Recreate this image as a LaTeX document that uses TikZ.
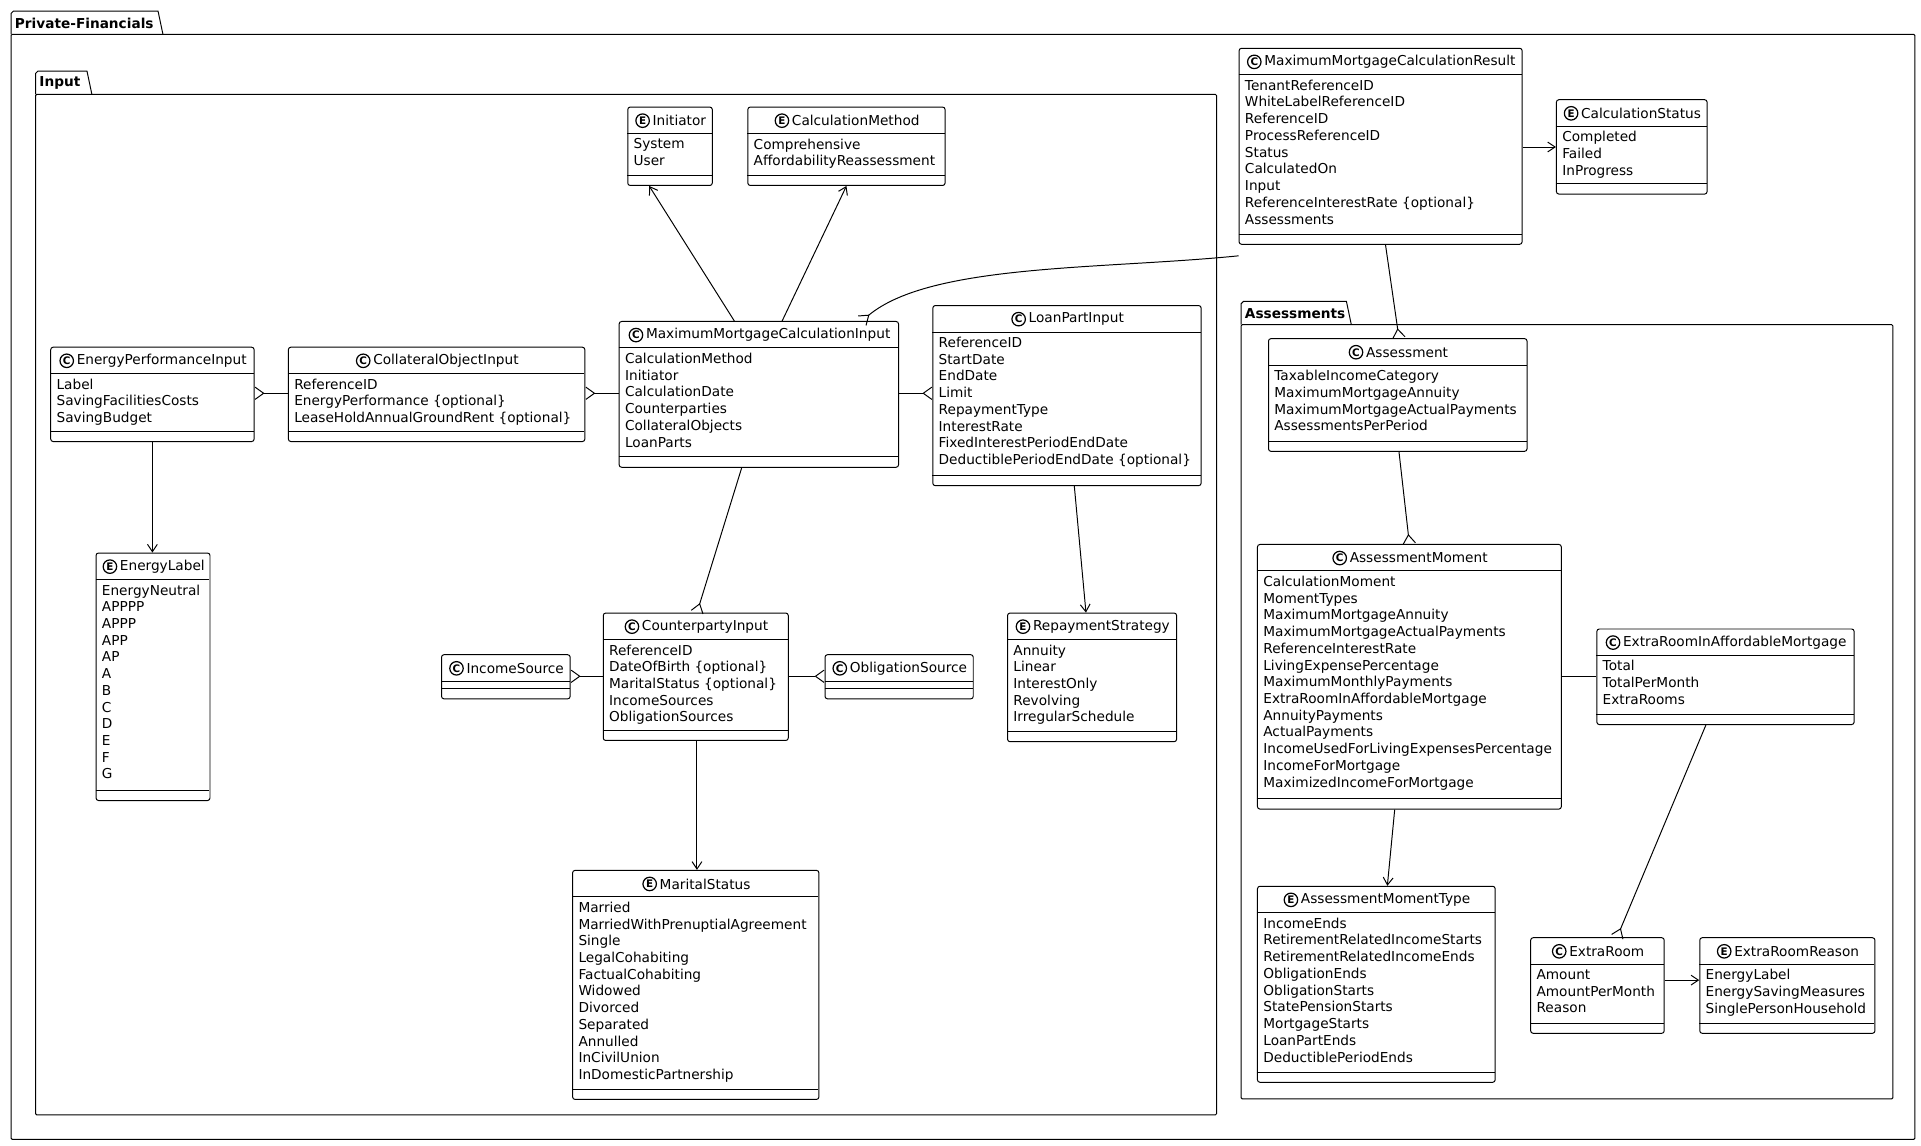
\documentclass[tikz,border=0pt]{standalone}
\usepackage{fontspec}
\setmainfont{DejaVu Sans}
\usetikzlibrary{arrows.meta,calc}
\tikzset{
  x=1bp,y=-1bp,
  every node/.style={font=\fontsize{11.2}{13.7}\selectfont},
  box/.style={draw,rounded corners=2bp,minimum width=#1,inner sep=0,anchor=north west,line width=0.8bp},
  sep/.style={line width=0.8bp},
  icon/.style={circle,draw,line width=1bp,inner sep=0,minimum size=11bp,font=\fontsize{8.5}{9}\bfseries\selectfont},
  con/.style={line width=0.8bp},
  arr/.style={con,-{Straight Barb[length=6bp,width=8bp]}},
  crow/.style={con,-{Straight Barb[reversed,length=7bp,width=10bp]}},
  pkg/.style={line width=0.8bp},
}
% name, x, y, w, h, letter, title, attrs
\newcommand\umlbox[8]{%
  \node[box=#4bp,minimum height=#5bp] (#1) at (#2,#3) {};
  \draw[sep] (#2,{#3+22}) -- ({#2+#4},{#3+22});
  \draw[sep] (#2,{#3+#5-8}) -- ({#2+#4},{#3+#5-8});
  \node[inner sep=0] (#1-t) at ({#2+#4/2+8},{#3+11.5}) {#7};
  \node[icon] at ([xshift=-8bp]#1-t.west) {#6};
  \node[anchor=north west,align=left,inner sep=0] at ({#2+5},{#3+26}) {#8};
}
\newcommand\pkgbox[7]{% x y w(tab) x2 y2 title name
  \draw[pkg] (#1,{#2+19}) -- (#1,{#2+2}) -- ({#1+2},#2) -- ({#1+#3},#2) -- ({#1+#3+4},{#2+19});
  \draw[pkg,rounded corners=1bp] (#1,{#2+19}) rectangle (#4,#5);
  \coordinate (#7) at (#1,#2);
  \node[anchor=west,inner sep=0,font=\fontsize{11.2}{13}\bfseries\selectfont] at ({#1+3},{#2+10}) {#6};
}
\begin{document}
\begin{tikzpicture}
\useasboundingbox[fill=white] (0,0) rectangle (1568,935.4);
\pkgbox{9}{9}{120}{1563}{930}{Private-Financials}{pf}
\pkgbox{29}{58}{42}{993}{910}{Input}{inp}
\pkgbox{1013}{246}{86}{1545}{897}{Assessments}{ass}

\umlbox{init}{512}{87}{69}{64}{E}{Initiator}{System\\User}
\umlbox{cm}{610}{87}{161}{64}{E}{CalculationMethod}{Comprehensive\\AffordabilityReassessment}
\umlbox{mmcr}{1011}{39}{231}{160}{C}{MaximumMortgageCalculationResult}{TenantReferenceID\\WhiteLabelReferenceID\\ReferenceID\\ProcessReferenceID\\Status\\CalculatedOn\\Input\\ReferenceInterestRate \{optional\}\\Assessments}
\umlbox{cs}{1270}{81}{123}{77}{E}{CalculationStatus}{Completed\\Failed\\InProgress}
\umlbox{epi}{41}{283}{166}{77}{C}{EnergyPerformanceInput}{Label\\SavingFacilitiesCosts\\SavingBudget}
\umlbox{coi}{235}{283}{242}{77}{C}{CollateralObjectInput}{ReferenceID\\EnergyPerformance \{optional\}\\LeaseHoldAnnualGroundRent \{optional\}}
\umlbox{mmci}{505}{262}{228}{119}{C}{MaximumMortgageCalculationInput}{CalculationMethod\\Initiator\\CalculationDate\\Counterparties\\CollateralObjects\\LoanParts}
\umlbox{lpi}{761}{249}{219}{147}{C}{LoanPartInput}{ReferenceID\\StartDate\\EndDate\\Limit\\RepaymentType\\InterestRate\\FixedInterestPeriodEndDate\\DeductiblePeriodEndDate \{optional\}}
\umlbox{el}{78}{451}{93}{202}{E}{EnergyLabel}{EnergyNeutral\\APPPP\\APPP\\APP\\AP\\A\\B\\C\\D\\E\\F\\G}
\umlbox{cpi}{492}{500}{151}{104}{C}{CounterpartyInput}{ReferenceID\\DateOfBirth \{optional\}\\MaritalStatus \{optional\}\\IncomeSources\\ObligationSources}
\umlbox{is}{360}{534}{105}{36}{C}{IncomeSource}{}
\umlbox{os}{673}{534}{121}{36}{C}{ObligationSource}{}
\umlbox{rs}{822}{500}{138}{105}{E}{RepaymentStrategy}{Annuity\\Linear\\InterestOnly\\Revolving\\IrregularSchedule}
\umlbox{ms}{467}{710}{201}{187}{E}{MaritalStatus}{Married\\MarriedWithPrenuptialAgreement\\Single\\LegalCohabiting\\FactualCohabiting\\Widowed\\Divorced\\Separated\\Annulled\\InCivilUnion\\InDomesticPartnership}
\umlbox{a}{1035}{276}{211}{92}{C}{Assessment}{TaxableIncomeCategory\\MaximumMortgageAnnuity\\MaximumMortgageActualPayments\\AssessmentsPerPeriod}
\umlbox{am}{1026}{444}{248}{216}{C}{AssessmentMoment}{CalculationMoment\\MomentTypes\\MaximumMortgageAnnuity\\MaximumMortgageActualPayments\\ReferenceInterestRate\\LivingExpensePercentage\\MaximumMonthlyPayments\\ExtraRoomInAffordableMortgage\\AnnuityPayments\\ActualPayments\\IncomeUsedForLivingExpensesPercentage\\IncomeForMortgage\\MaximizedIncomeForMortgage}
\umlbox{eriam}{1303}{513}{210}{78}{C}{ExtraRoomInAffordableMortgage}{Total\\TotalPerMonth\\ExtraRooms}
\umlbox{amt}{1026}{723}{194}{160}{E}{AssessmentMomentType}{IncomeEnds\\RetirementRelatedIncomeStarts\\RetirementRelatedIncomeEnds\\ObligationEnds\\ObligationStarts\\StatePensionStarts\\MortgageStarts\\LoanPartEnds\\DeductiblePeriodEnds}
\umlbox{er}{1249}{765}{109}{78}{C}{ExtraRoom}{Amount\\AmountPerMonth\\Reason}
\umlbox{err}{1387}{765}{143}{78}{E}{ExtraRoomReason}{EnergyLabel\\EnergySavingMeasures\\SinglePersonHousehold}

% connectors
\draw[arr] ([xshift=-20bp]mmci.north) -- ([xshift=-17bp]init.south);
\draw[arr] ([xshift=19bp]mmci.north) -- (cm.south);
\draw[crow] ([yshift=-9bp]mmcr.south west) .. controls (900,220) and (760,215) .. ([xshift=84bp]mmci.north);
\draw[crow] (coi.west|-0,321) -- (epi.east|-0,321);
\draw[crow] (mmci.west|-0,321) -- (coi.east|-0,321);
\draw[crow] (mmci.east|-0,321) -- (lpi.west|-0,321);
\draw[arr] (epi.south) -- (epi.south|-el.north);
\draw[crow] ([xshift=-14bp]mmci.south) -- ([xshift=1bp]cpi.north);
\draw[crow] (cpi.west|-0,552) -- (is.east|-0,552);
\draw[crow] (cpi.east|-0,552) -- (os.west|-0,552);
\draw[arr] ([xshift=1bp]cpi.south) -- ([xshift=1bp]cpi.south|-ms.north);
\draw[arr] ([xshift=6bp]lpi.south) -- ([xshift=-5bp]rs.north);
\draw[arr] (mmcr.east|-0,120) -- (cs.west|-0,120);
\draw[crow] ([xshift=4bp]mmcr.south) -- ([xshift=1bp]a.north);
\draw[crow] ([xshift=1bp]a.south) -- ([xshift=0bp]am.north);
\draw[con] (am.east|-0,552) -- (eriam.west|-0,552);
\draw[arr] ([xshift=-12bp]am.south) -- ([xshift=9bp]amt.north);
\draw[crow] ([xshift=-16bp]eriam.south) -- ([xshift=16bp]er.north);
\draw[arr] (er.east|-0,800) -- (err.west|-0,800);
\end{tikzpicture}
\end{document}
